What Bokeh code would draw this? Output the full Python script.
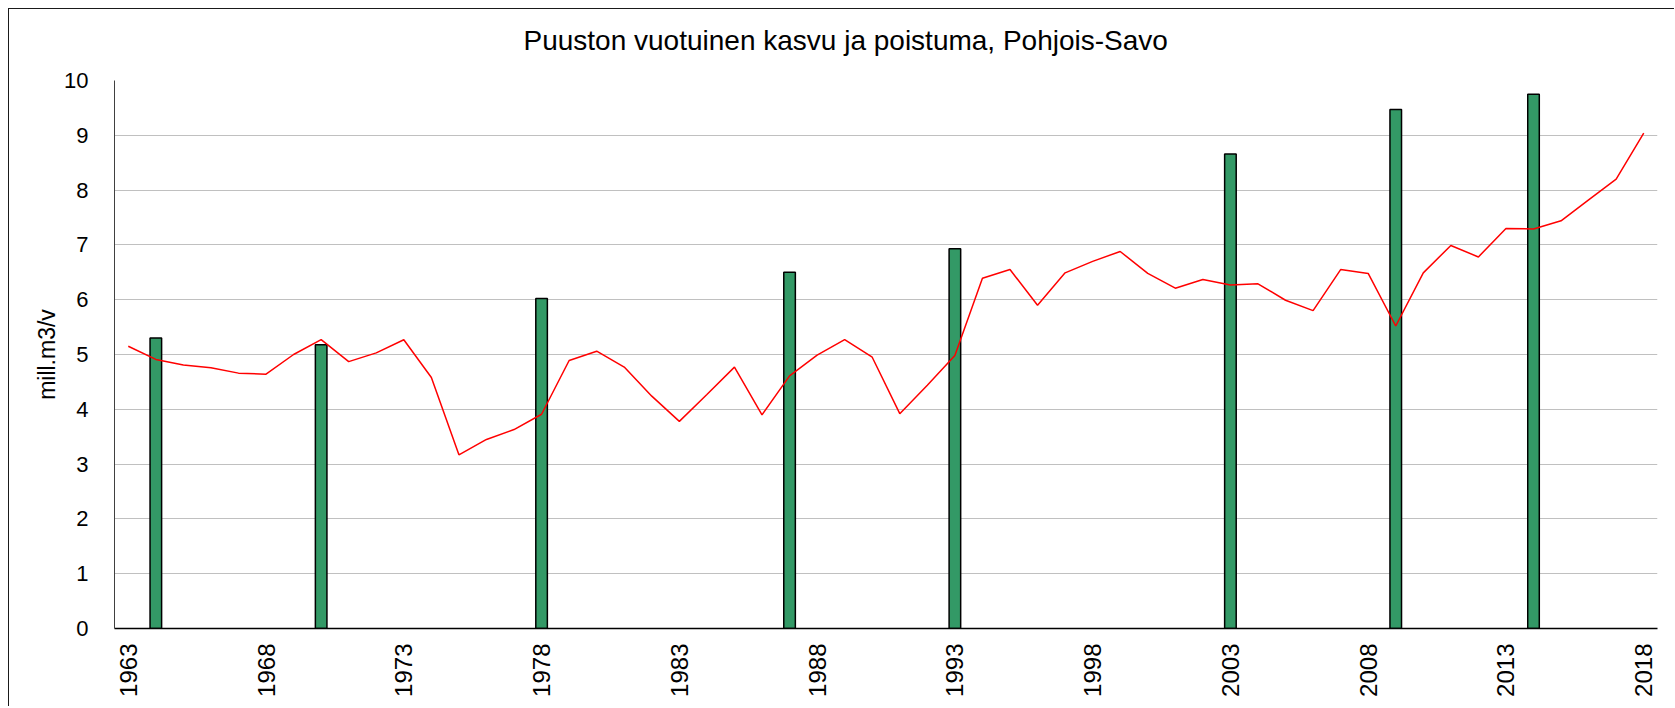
import math
from bokeh.plotting import figure
from bokeh.models import Range1d, FixedTicker, Title
from bokeh.embed import file_html
from bokeh.resources import INLINE

title_text = "Puuston vuotuinen kasvu ja poistuma, Pohjois-Savo"
y_label = "mill.m3/v"

# yearly removal (red line)
years = list(range(1963, 2019))
removal = [5.15, 4.91, 4.81, 4.76, 4.66, 4.64, 5.00, 5.27, 4.87, 5.03, 5.27, 4.58, 3.17, 3.45, 3.63, 3.91,
           4.89, 5.06, 4.77, 4.24, 3.78, 4.27, 4.77, 3.90, 4.61, 4.99, 5.27, 4.95, 3.92, 4.44,
           4.98, 6.39, 6.55, 5.90, 6.49, 6.70,
           6.88, 6.48, 6.21, 6.37, 6.27, 6.29, 5.99, 5.80, 6.55, 6.48, 5.52, 6.49, 6.99, 6.78,
           7.30, 7.29, 7.44, 7.82, 8.20, 9.04]

# growth (green bars)
growth_years = [1964, 1970, 1978, 1987, 1993, 2003, 2009, 2014]
growth = [5.30, 5.18, 6.02, 6.50, 6.93, 8.66, 9.47, 9.75]

x_ticks = [1963, 1968, 1973, 1978, 1983, 1988, 1993, 1998, 2003, 2008, 2013, 2018]
y_ticks = [0, 1, 2, 3, 4, 5, 6, 7, 8, 9, 10]

FONT = "Liberation Sans"

p = figure(width=1666, height=698,
           x_range=Range1d(years[0] - 0.5, years[-1] + 0.5),
           y_range=Range1d(0, 10),
           output_backend="svg", toolbar_location=None,
           min_border_left=105, min_border_right=18,
           min_border_top=71, min_border_bottom=79)
p.styles = {"margin-left": "8px", "margin-top": "8px",
            "border-top": "1px solid #1a1a1a", "border-left": "1px solid #1a1a1a"}
p.outline_line_color = None
p.background_fill_color = "white"
p.border_fill_color = "white"
p.title = None

# small spacer panel between the title and the plot area
p.add_layout(Title(text=" ", text_font=FONT, text_font_size="4px", standoff=1,
                   text_color="white"), "above")
p.add_layout(Title(text=title_text, align="left", offset=409, standoff=30,
                   vertical_align="top", text_font=FONT, text_font_size="28px",
                   text_font_style="normal", text_color="black"), "above")

p.xgrid.grid_line_color = None
p.ygrid.grid_line_color = "#c0c0c0"
p.ygrid.grid_line_width = 1

p.yaxis.ticker = FixedTicker(ticks=y_ticks)
p.yaxis.major_tick_in = 0
p.yaxis.major_tick_out = 0
p.yaxis.minor_tick_in = 0
p.yaxis.minor_tick_out = 0
p.yaxis.axis_line_color = "#404040"
p.yaxis.major_label_text_font = FONT
p.yaxis.major_label_text_font_size = "22px"
p.yaxis.major_label_text_color = "black"
p.yaxis.major_label_standoff = 26
p.yaxis.axis_label = y_label
p.yaxis.axis_label_text_font = FONT
p.yaxis.axis_label_text_font_size = "23px"
p.yaxis.axis_label_text_font_style = "normal"
p.yaxis.axis_label_text_color = "black"
p.yaxis.axis_label_standoff = 1

p.xaxis.ticker = FixedTicker(ticks=x_ticks)
p.xaxis.major_label_overrides = {t: str(t) for t in x_ticks}
p.xaxis.major_label_orientation = math.pi / 2
p.xaxis.major_tick_in = 0
p.xaxis.major_tick_out = 0
p.xaxis.minor_tick_in = 0
p.xaxis.minor_tick_out = 0
p.xaxis.axis_line_color = "black"
p.xaxis.axis_line_width = 1.5
p.xaxis.major_label_text_font = FONT
p.xaxis.major_label_text_font_size = "24px"
p.xaxis.major_label_text_color = "black"
p.xaxis.major_label_standoff = 15

p.vbar(x=growth_years, top=growth, bottom=0, width=0.42,
       fill_color="#339966", line_color="black", line_width=1.5)
p.line(years, removal, line_color="#ff0000", line_width=1.5)

open("out.html", "w").write(file_html(p, INLINE))
